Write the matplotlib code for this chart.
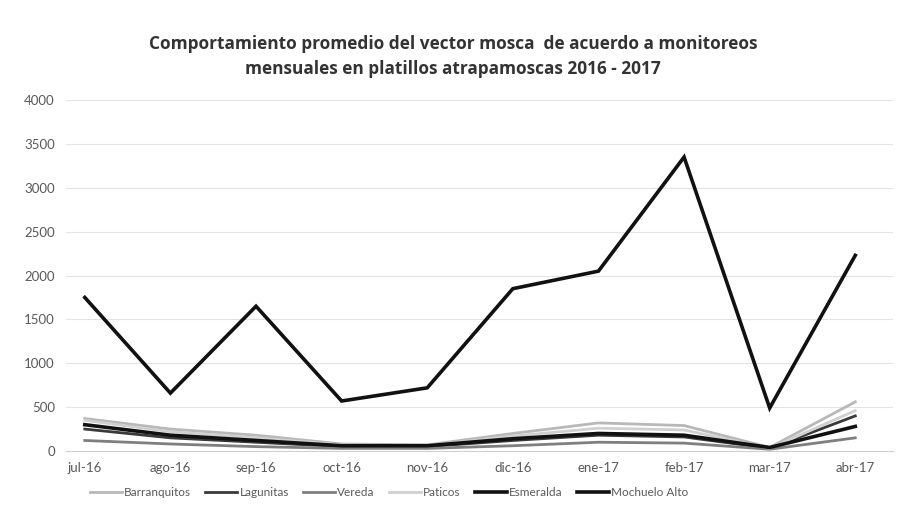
import matplotlib
matplotlib.use("Agg")
import matplotlib.pyplot as plt

plt.rcParams['font.family'] = ['Lato', 'DejaVu Sans']

# Data
meses = ["jul-16", "ago-16", "sep-16", "oct-16", "nov-16", "dic-16",
         "ene-17", "feb-17", "mar-17", "abr-17"]

barranquitos = [370, 250, 180, 80, 70, 200, 320, 290, 40, 560]
lagunitas = [250, 150, 100, 50, 50, 120, 180, 160, 30, 400]
vereda = [120, 80, 50, 30, 30, 60, 100, 90, 20, 150]
paticos = [350, 220, 150, 70, 60, 170, 260, 240, 30, 460]
esmeralda = [300, 180, 120, 60, 60, 140, 200, 180, 40, 280]
mochuelo_alto = [1750, 660, 1650, 570, 720, 1850, 2050, 3350, 490, 2230]

series = [
    ("Barranquitos", barranquitos, "#b8b8b8", 2.0),
    ("Lagunitas", lagunitas, "#3a3a3a", 2.0),
    ("Vereda", vereda, "#7f7f7f", 2.0),
    ("Paticos", paticos, "#d0d0d0", 2.0),
    ("Esmeralda", esmeralda, "#111111", 2.6),
    ("Mochuelo Alto", mochuelo_alto, "#111111", 2.6),
]

fig = plt.figure(figsize=(9.11, 5.27), dpi=100)
ax = fig.add_axes([0.0724, 0.1442, 0.9078, 0.666])

x = list(range(len(meses)))
for name, vals, col, lw in series:
    ax.plot(x, vals, color=col, linewidth=lw, label=name, solid_joinstyle='miter')

ax.set_ylim(0, 4000)
ax.set_yticks(range(0, 4001, 500))
ax.set_xlim(-0.22, 9.44)
ax.set_xticks(x)
ax.set_xticklabels(meses)
ax.grid(axis='y', color='#e3e3e3', linewidth=0.8)
ax.set_axisbelow(True)
for s in ['top', 'right', 'left']:
    ax.spines[s].set_visible(False)
ax.spines['bottom'].set_color('#d0d0d0')
ax.tick_params(axis='both', length=0, labelcolor='#595959')
ax.tick_params(axis='y', pad=8, labelsize=9.5)
ax.tick_params(axis='x', pad=8, labelsize=9.5)

fig.text(0.497, 0.893, "Comportamiento promedio del vector mosca  de acuerdo a monitoreos\n"
         "mensuales en platillos atrapamoscas 2016 - 2017",
         ha='center', va='center', fontsize=12.4, fontweight='bold',
         family=['Open Sans', 'DejaVu Sans'],
         color='#333333', linespacing=1.45)

fig.legend(loc='center', bbox_to_anchor=(0.427, 0.066), ncol=6, frameon=False,
           fontsize=8.5, handlelength=2.7, handletextpad=0.2, columnspacing=1.2,
           labelcolor='#595959')

fig.savefig("out.png", dpi=100)
